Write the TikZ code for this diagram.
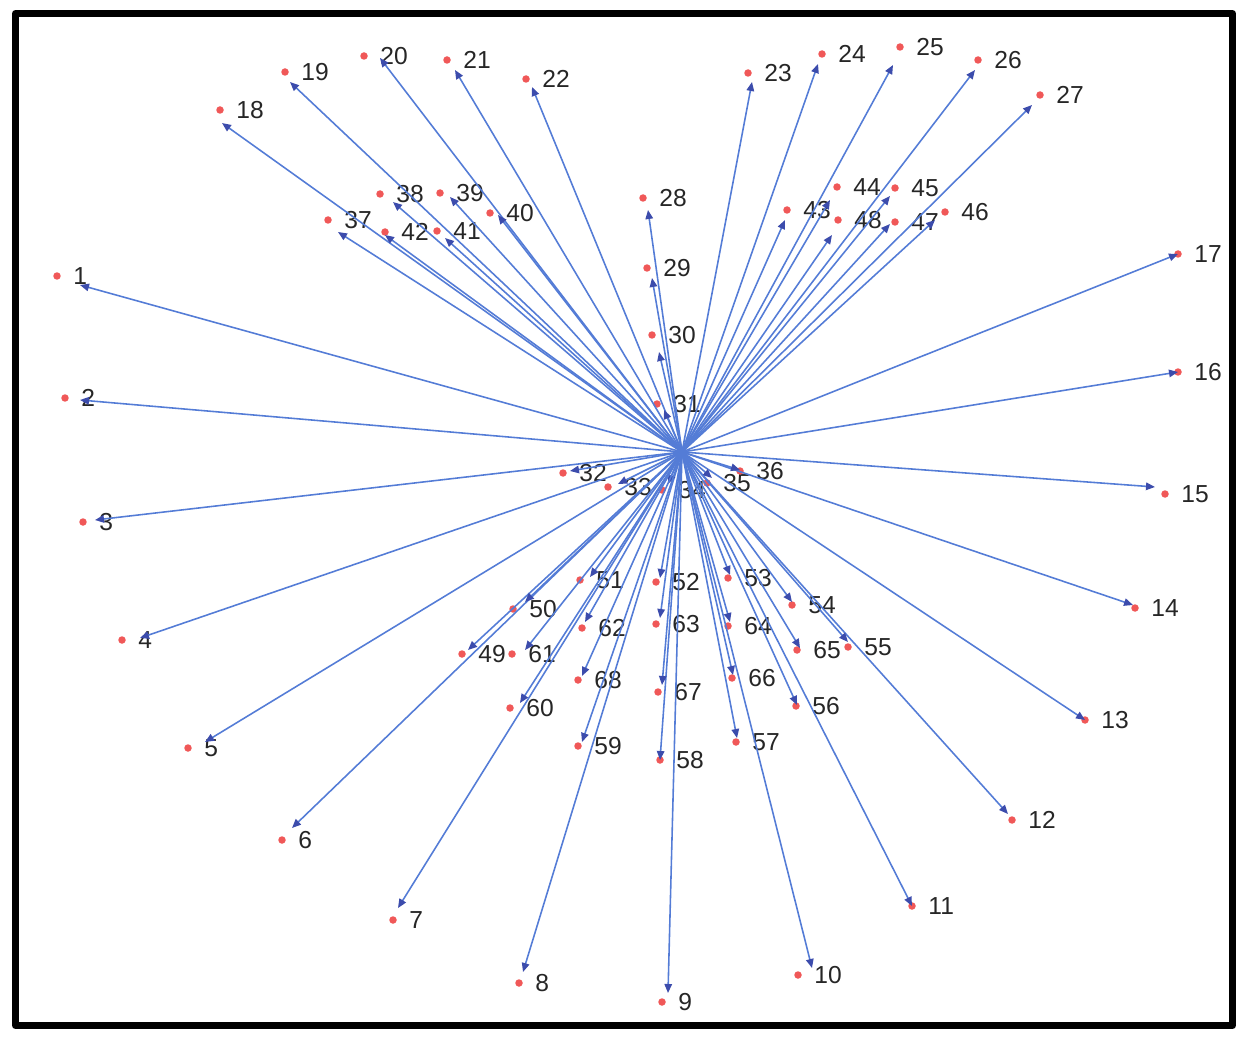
\documentclass[tikz,border=0pt]{standalone}
\usepackage{fontspec}
\setmainfont{Liberation Sans}
\usetikzlibrary{arrows.meta,positioning}
\definecolor{edgeblue}{RGB}{84,124,214}
\definecolor{tipblue}{RGB}{60,76,172}
\definecolor{dotred}{RGB}{240,88,88}
\definecolor{lblgray}{RGB}{38,38,38}
\tikzset{
  vtx/.style={circle, fill=dotred, inner sep=0pt, minimum size=0.15cm},
  lbl/.style={inner sep=0pt, text=lblgray},
  edge/.style={edgeblue, line width=0.9pt, -{Triangle[length=1.8mm, width=1.5mm, color=tipblue]}}
}
\begin{document}
\begin{tikzpicture}[x=0.02cm, y=-0.02cm, font=\fontsize{14}{16}\selectfont, line join=round, line cap=round]
			\useasboundingbox (0,0) rectangle (1248,1044);
			\draw[line width=0.14cm] (15.5,13.5) rectangle (1232.5,1025.5);
			\coordinate (hub) at (682,452);
			\foreach \i/\x/\y/\u/\v in {1/57/276/80/285, 2/65/398/80/400, 3/83/522/95/520, 4/122/640/140/638,
				5/188/748/205/742, 6/282/840/292/828, 7/393/920/398/908, 8/519/983/523/972,
				9/662/1002/668/993, 10/798/975/812/968, 11/912/906/912/906, 12/1012/820/1008/814,
				13/1085/720/1085/720, 14/1135/608/1133/605, 15/1165/494/1155/487, 16/1178/372/1178/372,
				17/1178/254/1178/254, 18/220/110/222/123, 19/285/72/290/82, 20/364/56/380/58,
				21/447/60/455/70, 22/526/79/532/87, 23/748/73/752/82, 24/822/54/818/64,
				25/900/47/893/65, 26/978/60/975/70, 27/1040/95/1032/105, 28/643/198/648/210,
				29/647/268/652/278, 30/652/335/659/352, 31/657/404/664/410, 32/563/473/570/471,
				33/608/487/618/484, 34/662/490/668/484, 35/707/483/712/478, 36/740/471/740/470,
				37/328/220/338/232, 38/380/194/393/202, 39/440/193/450/197, 40/490/213/498/215,
				41/437/231/445/238, 42/385/232/385/235, 43/787/210/785/220, 44/837/187/830/200,
				45/895/188/890/196, 46/945/212/935/220, 47/895/222/890/224, 48/838/220/832/235,
				49/462/654/468/650, 50/513/609/525/602, 51/580/580/590/577, 52/656/582/660/578,
				53/728/578/730/575, 54/792/605/792/602, 55/848/647/848/642, 56/796/706/797/705,
				57/736/742/737/738, 58/660/760/660/760, 59/578/746/582/742, 60/510/708/520/703,
				61/512/654/525/650, 62/582/628/585/622, 63/656/624/660/618, 64/728/626/730/622,
				65/797/650/800/648, 66/732/678/733/675, 67/658/692/662/685, 68/578/680/582/676}{
				\node[vtx] (n\i) at (\x,\y) {};
				\coordinate (t\i) at (\u,\v);
				\node[lbl, right=0.24cm of n\i] (l\i) {\i};
			}
			\foreach \i in {1,...,68} \draw[edge] (hub) -- (t\i);
		\end{tikzpicture}
\end{document}
